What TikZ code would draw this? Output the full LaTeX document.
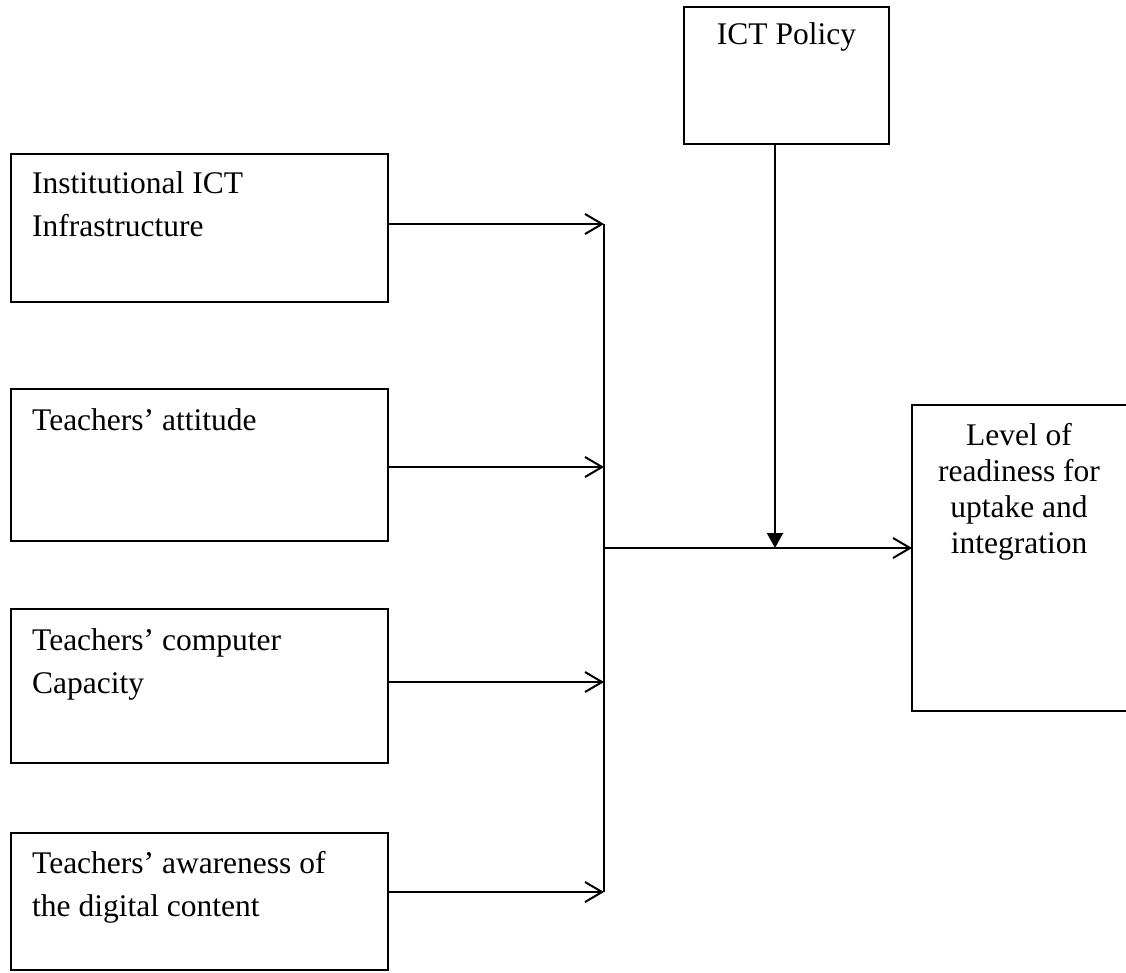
\documentclass[tikz,border=0pt]{standalone}
\usepackage{fontspec}
\setmainfont{Liberation Serif}
\usetikzlibrary{arrows.meta}
\begin{document}
\begin{tikzpicture}[x=1pt,y=-1pt,
  box/.style={draw, line width=1.3pt, rectangle, inner sep=0pt, outer sep=0pt},
  txtl/.style={anchor=north west, inner sep=0pt, align=left, font=\fontsize{31.5}{43}\selectfont},
  txtc/.style={anchor=north, inner sep=0pt, align=center, font=\fontsize{31.5}{36}\selectfont},
  conn/.style={line width=2pt},
  openarr/.style={conn, -{Straight Barb[length=17pt,width=20pt,line width=2pt]}},
  fillarr/.style={conn, -{Triangle[length=15pt,width=16pt]}}]
\useasboundingbox (0,0) rectangle (1126,972);
% left boxes
\node[box, anchor=north west, minimum width=377pt, minimum height=148pt] (b1) at (11,154) {};
\node[box, anchor=north west, minimum width=377pt, minimum height=152pt] (b2) at (11,389) {};
\node[box, anchor=north west, minimum width=377pt, minimum height=154pt] (b3) at (11,609) {};
\node[box, anchor=north west, minimum width=377pt, minimum height=137pt] (b4) at (11,833) {};
\node[txtl] (t1) at (32,171.5) {Institutional ICT\\Infrastructure};
\node[txtl] (t2) at (32,408.5) {Teachers’ attitude};
\node[txtl] (t3) at (32,628.5) {Teachers’ computer\\Capacity};
\node[txtl] (t4) at (32,851.5) {Teachers’ awareness of\\the digital content};
% policy box
\node[box, anchor=north west, minimum width=205pt, minimum height=137pt] (pol) at (684,7) {};
\node[txtc] (tp) at (786.5,22.5) {ICT Policy};
% outcome box
\node[box, anchor=north west, minimum width=220pt, minimum height=306pt] (out) at (912,405) {};
\node[txtc] (to) at (1019,423.5) {Level of\\readiness for\\uptake and\\integration};
% junction coordinates
\coordinate (j1) at (604,224);
\coordinate (j2) at (604,467);
\coordinate (j3) at (604,682);
\coordinate (j4) at (604,892);
\coordinate (jm) at (604,548);
\coordinate (pm) at (775,548);
% connectors
\draw[openarr] (b1.east |- j1) -- (j1);
\draw[openarr] (b2.east |- j2) -- (j2);
\draw[openarr] (b3.east |- j3) -- (j3);
\draw[openarr] (b4.east |- j4) -- (j4);
\draw[conn] (j1) -- (j4);
\draw[openarr] (jm) -- (jm -| out.west);
\draw[fillarr] (pm |- pol.south) -- (pm);
\end{tikzpicture}
\end{document}
